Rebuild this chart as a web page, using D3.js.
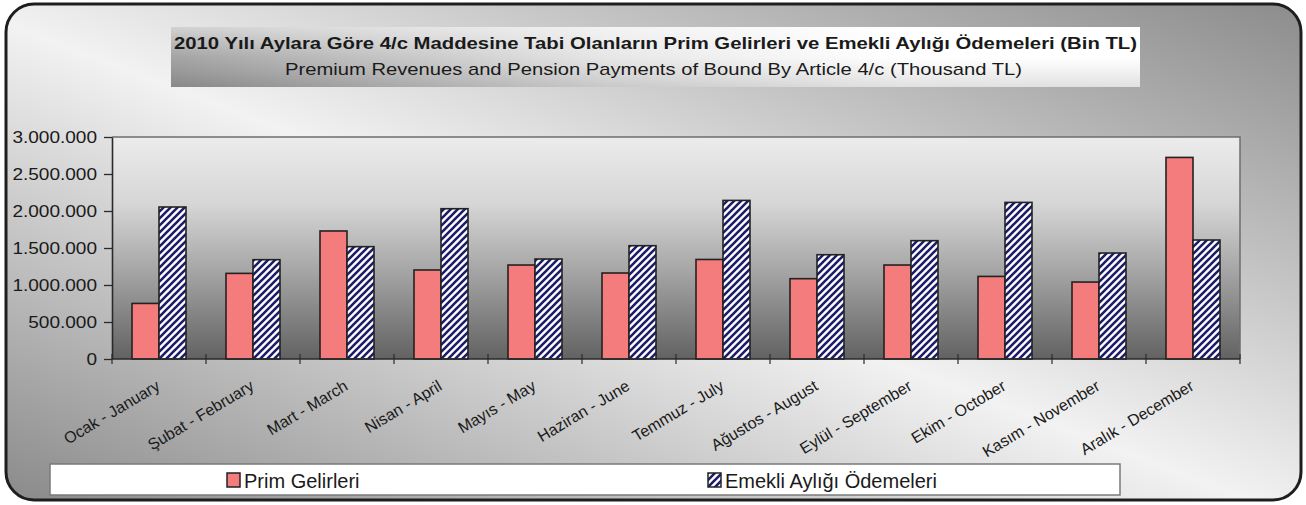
<!DOCTYPE html>
<html>
<head>
<meta charset="utf-8">
<script src="https://cdn.jsdelivr.net/npm/d3@7"></script>
<style>
  body { margin: 0; background: #fff; }
  text { font-family: "Liberation Sans", Arial, sans-serif; fill: #1a1a1a; }
</style>
</head>
<body>
<div id="chart"></div>
<script>
// Chart values (Bin TL)
var months = ["Ocak - January", "Şubat - February", "Mart - March", "Nisan - April",
  "Mayıs - May", "Haziran - June", "Temmuz - July", "Ağustos - August",
  "Eylül - September", "Ekim - October", "Kasım - November", "Aralık - December"];
var primGelirleri = [751000, 1157000, 1730000, 1203000, 1270000, 1162000,
  1345000, 1085000, 1270000, 1116000, 1040000, 2724000];
var emekliOdemeleri = [2054000, 1342000, 1518000, 2031000, 1351000, 1531000,
  2143000, 1409000, 1599000, 2116000, 1432000, 1608000];
var seriesNames = ["Prim Gelirleri", "Emekli Aylığı Ödemeleri"];
var yTicks = [0, 500000, 1000000, 1500000, 2000000, 2500000, 3000000];

var titleText = "2010 Yılı Aylara Göre 4/c Maddesine Tabi Olanların Prim Gelirleri ve Emekli Aylığı Ödemeleri (Bin TL)";
var subtitleText = "Premium Revenues and Pension Payments of Bound By Article 4/c (Thousand TL)";

// SVG dimensions
var svgWidth = 1306;
var svgHeight = 505;

// plot area
var plot = { left: 112, right: 1240, top: 137, bottom: 359 };

var svg = d3.select("#chart")
  .append("svg")
  .attr("width", svgWidth)
  .attr("height", svgHeight);

var defs = svg.append("defs");

// outer background gradient
var bg = defs.append("linearGradient").attr("id", "bgGrad")
  .attr("x1", 0).attr("y1", 1).attr("x2", 1).attr("y2", 0);
bg.append("stop").attr("offset", 0).attr("stop-color", "#8a8a8a");
bg.append("stop").attr("offset", 0.48).attr("stop-color", "#f2f2f2");
bg.append("stop").attr("offset", 1).attr("stop-color", "#8c8c8c");

// plot area gradient
var pg = defs.append("linearGradient").attr("id", "plotGrad")
  .attr("x1", 0).attr("y1", 0).attr("x2", 0).attr("y2", 1);
pg.append("stop").attr("offset", 0).attr("stop-color", "#ececec");
pg.append("stop").attr("offset", 0.3).attr("stop-color", "#d6d6d6");
pg.append("stop").attr("offset", 0.6).attr("stop-color", "#a6a6a6");
pg.append("stop").attr("offset", 1).attr("stop-color", "#626262");

// title banner gradients
var tg = defs.append("linearGradient").attr("id", "bannerGrad")
  .attr("x1", 0).attr("y1", 0).attr("x2", 1).attr("y2", 0);
tg.append("stop").attr("offset", 0).attr("stop-color", "#9a9a9a");
tg.append("stop").attr("offset", 0.45).attr("stop-color", "#e4e4e4");
tg.append("stop").attr("offset", 0.75).attr("stop-color", "#ffffff");
tg.append("stop").attr("offset", 1).attr("stop-color", "#ffffff");
var tv = defs.append("linearGradient").attr("id", "bannerShade")
  .attr("x1", 0).attr("y1", 0).attr("x2", 0).attr("y2", 1);
tv.append("stop").attr("offset", 0).attr("stop-color", "#fff").attr("stop-opacity", 0.55);
tv.append("stop").attr("offset", 0.5).attr("stop-color", "#fff").attr("stop-opacity", 0.1);
tv.append("stop").attr("offset", 1).attr("stop-color", "#000").attr("stop-opacity", 0.12);

// hatch pattern for pension payments
var hatch = defs.append("pattern").attr("id", "hatch")
  .attr("patternUnits", "userSpaceOnUse")
  .attr("width", 7).attr("height", 7);
hatch.append("rect").attr("width", 7).attr("height", 7).attr("fill", "#fff");
hatch.append("path")
  .attr("d", "M-2,2 L2,-2 M0,7 L7,0 M5,9 L9,5")
  .attr("stroke", "#1c1c6a")
  .attr("stroke-width", 2.6);

// outer frame
svg.append("rect")
  .attr("x", 6).attr("y", 4)
  .attr("width", 1295).attr("height", 496)
  .attr("rx", 28).attr("ry", 28)
  .attr("fill", "url(#bgGrad)")
  .attr("stroke", "#1e1e1e")
  .attr("stroke-width", 3);

// title banner
svg.append("rect").attr("x", 171).attr("y", 27).attr("width", 969).attr("height", 60)
  .attr("fill", "url(#bannerGrad)");
svg.append("rect").attr("x", 171).attr("y", 27).attr("width", 969).attr("height", 60)
  .attr("fill", "url(#bannerShade)");

svg.append("text")
  .attr("x", 174).attr("y", 49)
  .attr("textLength", 963)
  .attr("lengthAdjust", "spacingAndGlyphs")
  .style("font-size", "17px")
  .style("font-weight", "bold")
  .text(titleText);

svg.append("text")
  .attr("x", 285).attr("y", 75)
  .attr("textLength", 737)
  .attr("lengthAdjust", "spacingAndGlyphs")
  .style("font-size", "17px")
  .text(subtitleText);

// scales
var x0 = d3.scaleBand()
  .domain(months)
  .range([plot.left, plot.right])
  .padding(0);

var x1 = d3.scaleBand()
  .domain(seriesNames)
  .range([20, 74]);

var y = d3.scaleLinear()
  .domain([0, 3000000])
  .range([plot.bottom, plot.top]);

// plot background
svg.append("rect")
  .attr("x", plot.left).attr("y", plot.top)
  .attr("width", plot.right - plot.left)
  .attr("height", plot.bottom - plot.top)
  .attr("fill", "url(#plotGrad)");
svg.append("path")
  .attr("d", `M${plot.left},${plot.top}H${plot.right}V${plot.bottom}`)
  .attr("fill", "none")
  .attr("stroke", "#6e6e6e")
  .attr("stroke-width", 1.5);

// bars
var rows = months.map((m, i) => ({ month: m, values: [primGelirleri[i], emekliOdemeleri[i]] }));
var fills = ["#f47c7c", "url(#hatch)"];

var groups = svg.selectAll(".month")
  .data(rows)
  .enter()
  .append("g")
  .attr("class", "month")
  .attr("transform", d => `translate(${x0(d.month)},0)`);

groups.selectAll("rect")
  .data(d => d.values.map((v, j) => ({ key: seriesNames[j], value: v, fill: fills[j] })))
  .enter()
  .append("rect")
  .attr("x", d => x1(d.key))
  .attr("y", d => y(d.value))
  .attr("width", x1.bandwidth())
  .attr("height", d => plot.bottom - y(d.value))
  .attr("fill", d => d.fill)
  .attr("stroke", "#222")
  .attr("stroke-width", 1.6);

// y axis
var fmt = d3.formatLocale({ decimal: ",", thousands: ".", grouping: [3], currency: ["", ""] }).format(",");
var leftAxis = d3.axisLeft(y).tickValues(yTicks).tickFormat(fmt).tickSizeInner(8).tickSizeOuter(0).tickPadding(0);
var yAxis = svg.append("g")
  .attr("transform", `translate(${plot.left},0)`)
  .call(leftAxis);
yAxis.select(".domain").attr("stroke", "#2a2a2a").attr("stroke-width", 1.6);
yAxis.selectAll(".tick line").attr("stroke", "#2a2a2a").attr("stroke-width", 1.3);
yAxis.selectAll(".tick text")
  .attr("x", 0)
  .attr("transform", "translate(-15,0) scale(1.12,1)")
  .style("font-size", "17px")
  .style("font-family", "'Liberation Sans', Arial, sans-serif")
  .attr("fill", "#1a1a1a");

// x axis line and ticks at band edges
svg.append("line")
  .attr("x1", plot.left).attr("x2", plot.right)
  .attr("y1", plot.bottom).attr("y2", plot.bottom)
  .attr("stroke", "#2a2a2a").attr("stroke-width", 1.6);

var edges = months.map(m => x0(m)).concat([plot.right]);
svg.selectAll(".xtick")
  .data(edges)
  .enter()
  .append("line")
  .attr("class", "xtick")
  .attr("x1", d => d).attr("x2", d => d)
  .attr("y1", plot.bottom - 5).attr("y2", plot.bottom + 5)
  .attr("stroke", "#2a2a2a").attr("stroke-width", 1.2);

// category labels
svg.selectAll(".xlabel")
  .data(months)
  .enter()
  .append("text")
  .attr("class", "xlabel")
  .attr("transform", d => `translate(${x0(d) + x0.bandwidth() / 2 + 2},389) rotate(-31)`)
  .style("text-anchor", "end")
  .style("font-size", "16px")
  .text(d => d);

// legend
svg.append("rect")
  .attr("x", 50).attr("y", 464)
  .attr("width", 1070).attr("height", 31)
  .attr("fill", "#fff")
  .attr("stroke", "#7a7a7a")
  .attr("stroke-width", 1.5);

var legendX = [227, 708];
var legend = svg.selectAll(".legend")
  .data(seriesNames)
  .enter()
  .append("g")
  .attr("class", "legend")
  .attr("transform", (d, i) => `translate(${legendX[i]},473)`);
legend.append("rect")
  .attr("width", 13).attr("height", 14)
  .attr("fill", (d, i) => fills[i])
  .attr("stroke", "#222")
  .attr("stroke-width", 1.5);
legend.append("text")
  .attr("x", 17).attr("y", 15)
  .style("font-size", "20px")
  .text(d => d);
</script>
</body>
</html>
